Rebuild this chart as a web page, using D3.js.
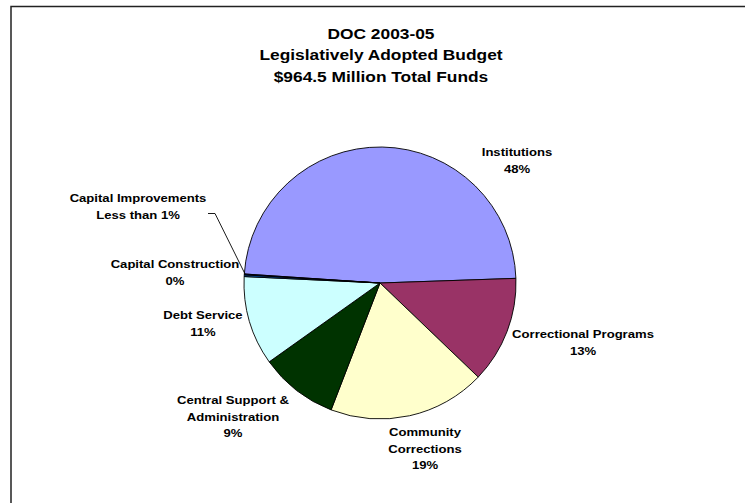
<!DOCTYPE html>
<html>
<head>
<meta charset="utf-8">
<script src="https://cdn.jsdelivr.net/npm/d3@7"></script>
<style>
  html, body { margin: 0; padding: 0; background: #fff; }
  svg { display: block; }
  text { font-family: "Liberation Sans", Arial, sans-serif; font-weight: bold; fill: #000; }
</style>
</head>
<body>
<svg id="chart" width="745" height="503"></svg>
<script>
// Budget shares by program area (percent of total funds), in clockwise order
const categories = [
  "Institutions",
  "Correctional Programs",
  "Community Corrections",
  "Central Support & Administration",
  "Debt Service",
  "Capital Construction",
  "Capital Improvements"
];
const shares = [48.4, 12.7, 18.7, 9.3, 10.6, 0.2, 0.1];
const colors = ["#9999FF", "#993366", "#FFFFCC", "#003300", "#CCFFFF", "#0066CC", "#000080"];

// Label text lines (name part); the percentage line is computed from the shares
const labelLines = [
  ["Institutions"],
  ["Correctional Programs"],
  ["Community", "Corrections"],
  ["Central Support &", "Administration"],
  ["Debt Service"],
  ["Capital Construction"],
  ["Capital Improvements"]
];

const titleLines = ["DOC 2003-05", "Legislatively Adopted Budget", "$964.5 Million Total Funds"];

// Text is set slightly wide, like the original document font
const stretch = 1.12;

const svg = d3.select("#chart");

// Chart area frame
svg.append("rect")
  .attr("x", 11).attr("y", 6.5)
  .attr("width", 760).attr("height", 520)
  .attr("fill", "#fff")
  .attr("stroke", "#222")
  .attr("stroke-width", 1.5);

// Title
svg.append("g").selectAll("text")
  .data(titleLines)
  .join("text")
  .attr("transform", (d, i) => `translate(381,${39 + i * 21.3}) scale(${stretch},1)`)
  .attr("text-anchor", "middle")
  .attr("font-size", 15.5)
  .text(d => d);

// Pie
const cx = 380, cy = 283, r = 136;
const startDeg = -86.2;
const total = d3.sum(shares);
const data = categories.map((c, i) => ({ name: c, value: shares[i], color: colors[i], lines: labelLines[i] }));

const pie = d3.pie()
  .value(d => d.value)
  .sort(null)
  .startAngle(startDeg * Math.PI / 180)
  .endAngle(startDeg * Math.PI / 180 + 2 * Math.PI);

const arc = d3.arc().innerRadius(0).outerRadius(r);

const g = svg.append("g").attr("transform", `translate(${cx},${cy})`);
const arcs = pie(data);

g.selectAll("path")
  .data(arcs)
  .join("path")
  .attr("d", arc)
  .attr("fill", d => d.data.color)
  .attr("stroke", "#000")
  .attr("stroke-width", 0.9)
  .attr("stroke-linejoin", "round");

function pctText(v) {
  const p = v / total * 100;
  if (p > 0 && p < 0.5 && v === d3.min(shares)) return "Less than 1%";
  return Math.round(p) + "%";
}

// Label anchor positions (centre of each text block, first baseline)
const labelPos = [
  [517, 156],
  [583, 338],
  [425, 436],
  [233, 404],
  [203, 319],
  [175, 268],
  [138, 202]
];

const lg = svg.append("g");
arcs.forEach((a, i) => {
  const lines = a.data.lines.concat([pctText(a.data.value)]);
  lg.append("g").selectAll("text")
    .data(lines)
    .join("text")
    .attr("transform", (d, k) => `translate(${labelPos[i][0]},${labelPos[i][1] + k * 16.5}) scale(${stretch},1)`)
    .attr("text-anchor", "middle")
    .attr("font-size", 11.7)
    .text(d => d);
});

// Leader line from the Capital Improvements label to its slice
const imp = arcs[arcs.length - 1];
const midA = (imp.startAngle + imp.endAngle) / 2;
const tip = [cx + Math.sin(midA) * (r - 1), cy - Math.cos(midA) * (r - 1)];
svg.append("path")
  .attr("d", d3.line()([[208, 213.5], [215, 213.5], tip]))
  .attr("fill", "none")
  .attr("stroke", "#000")
  .attr("stroke-width", 0.9);
</script>
</body>
</html>
